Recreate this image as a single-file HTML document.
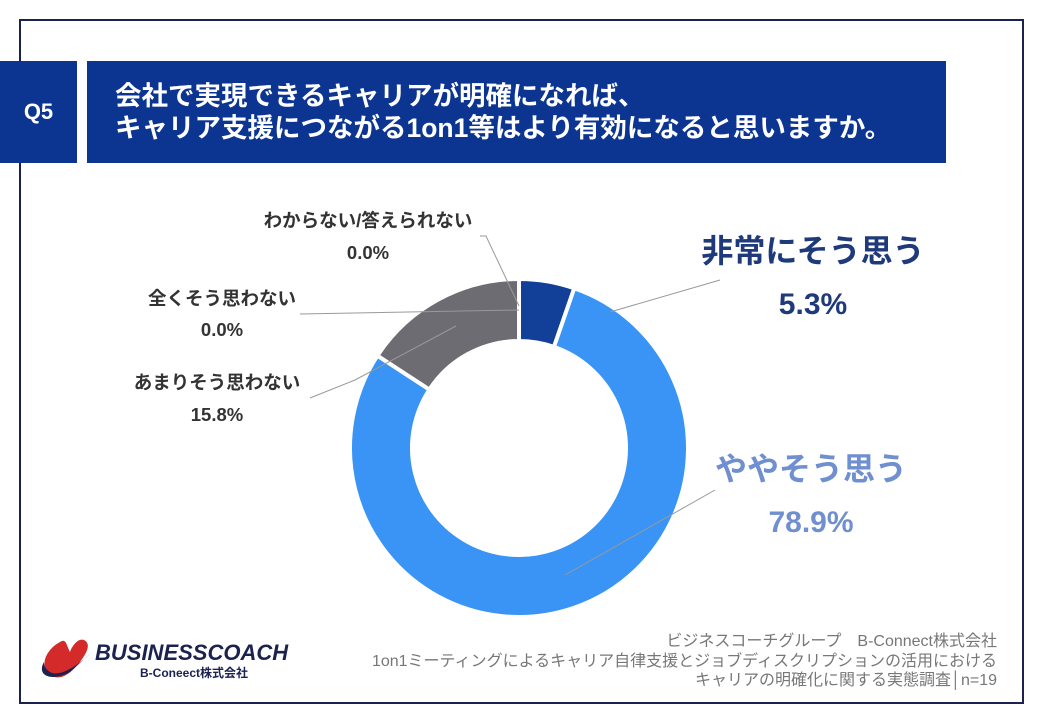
<!DOCTYPE html>
<html><head><meta charset="utf-8"><style>
body{margin:0;width:1040px;height:720px;background:#fff;position:relative;overflow:hidden;font-family:"Liberation Sans","Noto Sans CJK JP",sans-serif}
.frame{position:absolute;left:19px;top:19px;width:1001px;height:681px;border:2px solid #1b2250}
.q{position:absolute;left:0;top:61px;width:77px;height:102px;background:#0c3592;color:#fff;font-weight:bold;font-size:22px;line-height:102px;text-align:center}
.t{position:absolute;left:87px;top:61px;width:859px;height:102px;background:#0c3592;color:#fff;font-weight:bold;font-size:26.5px;line-height:32px;box-sizing:border-box;padding:19px 0 0 28px;white-space:nowrap}
.foot{position:absolute;right:43px;top:632px;text-align:right;color:#777;font-size:16px;line-height:19.5px;white-space:nowrap}
</style></head><body>
<div class="frame"></div>
<div class="q">Q5</div>
<div class="t">会社で実現できるキャリアが明確になれば、<br>キャリア支援につながる1on1等はより有効になると思いますか。</div>
<svg id="chart" width="1040" height="720" style="position:absolute;left:0;top:0">
<g id="slices"></g>
<g id="leaders" stroke="#999" stroke-width="1" fill="none">
<polyline points="610,312 720,280"/>
<polyline points="565,575 715,490"/>
<polyline points="456,326 355,380 310,398"/>
<polyline points="519,310 300,314"/>
<polyline points="519,306 486,236 480,236"/>
</g>
<g font-weight="bold">
<text x="813" y="262" text-anchor="middle" font-size="32" fill="#1f3a7a">非常にそう思う</text>
<text x="813" y="314" text-anchor="middle" font-size="30" fill="#1f3a7a">5.3%</text>
<text x="811" y="480" text-anchor="middle" font-size="32" fill="#6f8fd0">ややそう思う</text>
<text x="811" y="532" text-anchor="middle" font-size="30" fill="#6f8fd0">78.9%</text>
<g font-size="18.5" fill="#333" text-anchor="middle">
<text x="368" y="227">わからない/答えられない</text>
<text x="368" y="259">0.0%</text>
<text x="222" y="305">全くそう思わない</text>
<text x="222" y="336">0.0%</text>
<text x="217" y="389">あまりそう思わない</text>
<text x="217" y="421">15.8%</text>
</g></g>
<g>
<path d="M60,642 C45,650 38,668 52,676 C62,681 72,672 80,662 C86,654 92,644 84,640 C78,638 72,646 70,652 C66,644 66,638 60,642Z" fill="#d42a2a"/>
<path d="M44,662 C36,676 52,682 70,672 L92,652 C80,664 60,678 50,672 C44,668 44,664 44,662Z" fill="#1b2250"/>
<text x="95" y="660" font-size="22" font-weight="bold" font-style="italic" fill="#1b2250">BUSINESSCOACH</text>
<text x="140" y="677" font-size="12" font-weight="bold" fill="#1b2250">B-Coneect株式会社</text>
</g>
</svg>
<div class="foot">ビジネスコーチグループ　B-Connect株式会社<br>1on1ミーティングによるキャリア自律支援とジョブディスクリプションの活用における<br>キャリアの明確化に関する実態調査│n=19</div>
<script>
const categories=["非常にそう思う","ややそう思う","あまりそう思わない","全くそう思わない","わからない/答えられない"];
const values=[5.3,78.9,15.8,0.0,0.0];
const colors=["#123f98","#3a94f5","#6d6c72","#444","#888"];
const cx=519,cy=448,R=169,r=107;
const g=document.getElementById('slices');
const total=values.reduce((a,b)=>a+b,0);
let a0=-Math.PI/2;
values.forEach((v,i)=>{
  const a1=a0+v/total*2*Math.PI;
  if(v>0){
    const L=(a1-a0)>Math.PI?1:0;
    const p=(rad,a)=>[cx+rad*Math.cos(a),cy+rad*Math.sin(a)];
    const [x1,y1]=p(R,a0),[x2,y2]=p(R,a1),[x3,y3]=p(r,a1),[x4,y4]=p(r,a0);
    const path=document.createElementNS('http://www.w3.org/2000/svg','path');
    path.setAttribute('d',`M${x1},${y1}A${R},${R} 0 ${L} 1 ${x2},${y2}L${x3},${y3}A${r},${r} 0 ${L} 0 ${x4},${y4}Z`);
    path.setAttribute('fill',colors[i]);
    path.setAttribute('stroke','#fff');
    path.setAttribute('stroke-width','4');
    
    
    g.appendChild(path);
  }
  a0=a1;
});
</script>
</body></html>
